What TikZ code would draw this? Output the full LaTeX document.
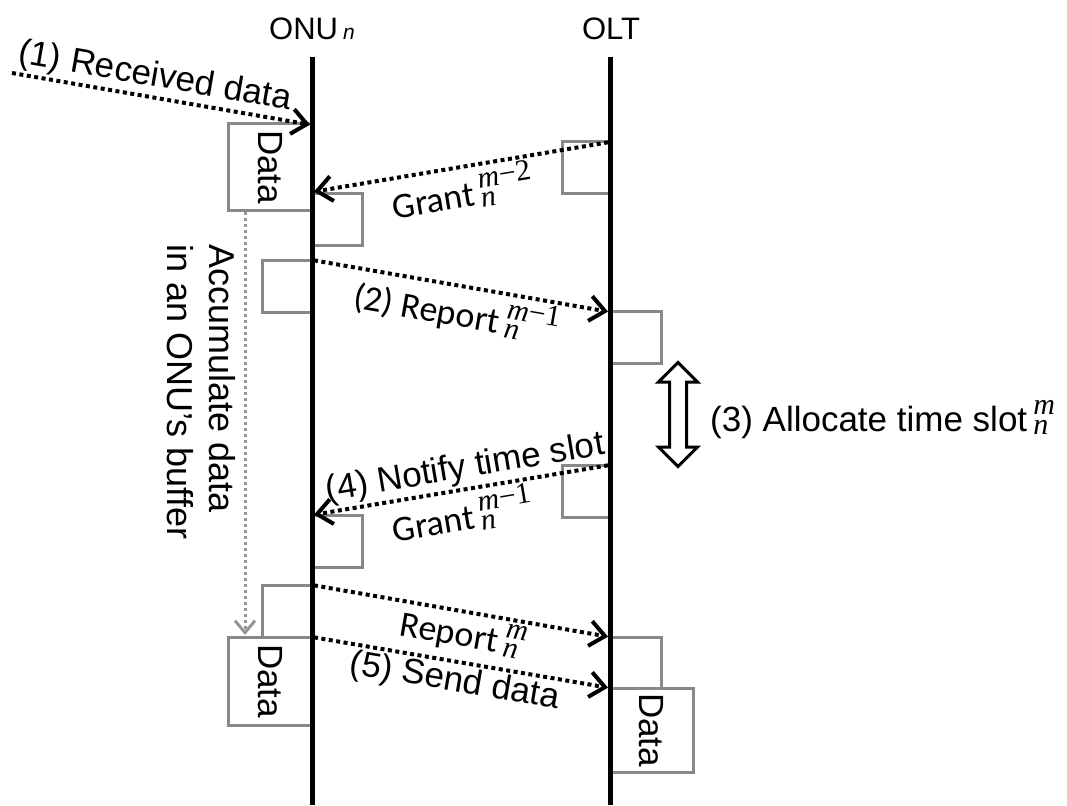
\documentclass[tikz,border=0pt]{standalone}
\usepackage{fontspec}
\setmainfont{Liberation Sans}
\newfontfamily\calibrifont{Carlito}
\newfontfamily\idxfont{Liberation Serif}
\newcommand\supsub[2]{\hspace{6pt}\raisebox{-3pt}{\idxfont\fontsize{30}{18}\selectfont
  \renewcommand\arraystretch{1}\begin{tabular}[b]{@{}l@{}}#1\\#2\end{tabular}}}
\usetikzlibrary{arrows.meta,shapes.arrows}
\definecolor{boxgray}{RGB}{136,136,136}
\definecolor{accgray}{RGB}{150,150,150}
\begin{document}
\begin{tikzpicture}[x=1pt,y=-1pt,
  life/.style={line width=5pt},
  msg/.style={line width=4pt, dash pattern=on 4pt off 3.5pt,
    -{Straight Barb[length=15pt,width=25pt]}},
  accarrow/.style={line width=3pt, draw=accgray, dash pattern=on 3pt off 3pt,
    -{Straight Barb[length=12pt,width=20pt]}},
  sbox/.style={draw=boxgray, line width=3pt, inner sep=0pt,
    minimum width=50pt, minimum height=52pt},
  dbox/.style={draw=boxgray, line width=3pt, inner sep=0pt, rotate=-90,
    font=\fontsize{35}{40}\selectfont},
  lbl/.style={font=\fontsize{35}{40}\selectfont, inner sep=2pt},
  clbl/.style={font=\calibrifont\fontsize{36}{42}\selectfont, inner sep=2pt},
  ttl/.style={font=\fontsize{31}{36}\selectfont, anchor=base},
]
\useasboundingbox (0,0) rectangle (1067,805);

% titles
\node[ttl] (onuT) at (312,40) {ONU\hspace{5pt}\textit{\fontsize{21}{24}\selectfont n}};
\node[ttl] (oltT) at (611,40) {OLT};

% lifeline coordinates
\coordinate (onuTop) at (312,57);
\coordinate (onuBot) at (312,805);
\coordinate (oltTop) at (610,57);
\coordinate (oltBot) at (610,805);

% boxes
\node[dbox, minimum width=86pt, minimum height=84pt] (data1) at (270,167) {Data};
\node[sbox, minimum width=48pt] (g1olt) at (586,167.5) {};
\node[sbox] (g1onu) at (337,219) {};
\node[sbox] (r1onu) at (287,286.5) {};
\node[sbox] (r1olt) at (636,337.5) {};
\node[sbox, minimum width=48pt] (g2olt) at (586,491) {};
\node[sbox] (g2onu) at (337,541) {};
\node[sbox] (r2onu) at (287,611) {};
\node[sbox, minimum height=51pt] (r2olt) at (636,662.5) {};
\node[dbox, minimum width=88pt, minimum height=84pt] (data2) at (270,681) {Data};
\node[dbox, minimum width=84pt, minimum height=83pt] (data3) at (651.5,730) {Data};

% lifelines
\draw[life] (onuTop) -- (onuBot);
\draw[life] (oltTop) -- (oltBot);

% message points
\coordinate (in1) at (12,73);
\coordinate (rx1) at (312,125);
\coordinate (g1s) at (610,142);
\coordinate (g1e) at (312,192);
\coordinate (r1s) at (312,260);
\coordinate (r1e) at (610,312);
\coordinate (g2s) at (610,465);
\coordinate (g2e) at (312,515);
\coordinate (r2s) at (312,585);
\coordinate (r2e) at (610,637);
\coordinate (d2s) at (312,637);
\coordinate (d2e) at (610,688);
\coordinate (accS) at (245,212);
\coordinate (accE) at (245,635);

% messages
\draw[msg, shorten >=2pt] (in1) -- node[lbl, sloped, above, pos=.465] {(1) Received data} (rx1);
\draw[msg, shorten >=2pt, shorten <=2pt] (g1s) -- node[clbl, sloped, below=0pt, pos=.51] {Grant\supsub{\textit{m}−2}{\textit{n}}} (g1e);
\draw[msg, shorten >=2pt, shorten <=2pt] (r1s) -- node[clbl, sloped, below=0pt, pos=.5] {(2) Report\supsub{\textit{m}−1}{\textit{n}}} (r1e);
\draw[msg, shorten >=2pt, shorten <=2pt] (g2s) -- node[lbl, sloped, above, pos=.475] {(4) Notify time slot}
   node[clbl, sloped, below=0pt, pos=.51] {Grant\supsub{\textit{m}−1}{\textit{n}}} (g2e);
\draw[msg, shorten >=2pt, shorten <=2pt] (r2s) -- node[clbl, sloped, below=0pt, pos=.52] {Report\supsub{\textit{m}}{\textit{n}}} (r2e);
\draw[msg, shorten >=2pt, shorten <=2pt] (d2s) -- node[lbl, sloped, below, pos=.49] {(5) Send data} (d2e);

% accumulate
\draw[accarrow] (accS) -- (accE);
\node[rotate=-90, align=left, inner sep=0pt, font=\fontsize{36}{42}\selectfont] (acc) at (201,392)
  {Accumulate data\\in an ONU’s buffer};

% allocate
\node[double arrow, draw, line width=3pt, fill=white, rotate=90,
  minimum height=104pt, inner xsep=0pt, inner ysep=7pt,
  double arrow head extend=11pt] (alloc) at (678,414.5) {};
\node[lbl, anchor=west] (allocT) at (708,420) {(3) Allocate time slot\supsub{\textit{m}}{\textit{n}}};
\end{tikzpicture}
\end{document}
